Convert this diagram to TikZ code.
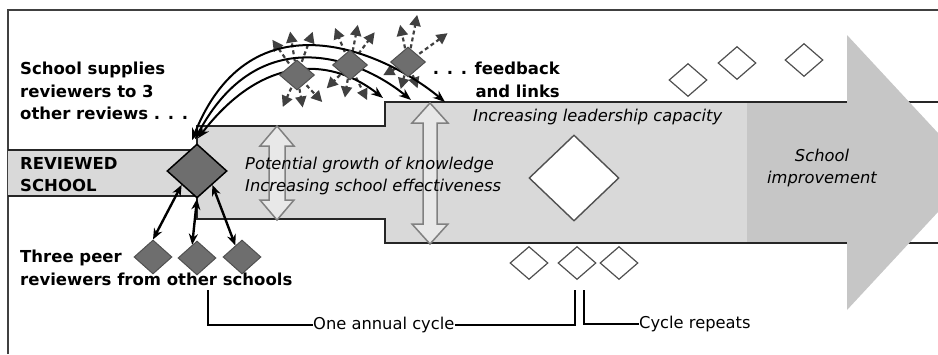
\documentclass[tikz,border=0pt]{standalone}
\usepackage{fontspec}
\setmainfont{DejaVu Sans}
\usetikzlibrary{shapes.geometric,arrows.meta,backgrounds,positioning}
\definecolor{bandgray}{HTML}{D9D9D9}
\definecolor{impgray}{HTML}{C6C6C6}
\definecolor{diagray}{HTML}{6E6E6E}
\definecolor{rimgray}{HTML}{505050}

\begin{document}
\begin{tikzpicture}[x=1pt,y=-1pt,
    darkdia/.style={diamond, inner sep=0, fill=diagray, draw=rimgray, line width=1pt},
    whitedia/.style={diamond, inner sep=0, fill=white, draw=rimgray, line width=1.2pt,
        minimum width=38, minimum height=33},
    boldlbl/.style={font=\fontsize{16.5}{22.5}\selectfont\bfseries, inner sep=0},
    itlbl/.style={font=\fontsize{16.3}{22}\selectfont\itshape, inner sep=0},
    plainlbl/.style={font=\fontsize{16.3}{20}\selectfont, inner sep=0},
    hollow/.style={draw=black!50, fill=black!9, line width=1.5pt, line join=miter},
    spray/.style={draw=black!75, line width=2.2pt, dash pattern=on 4pt off 3pt,
        -{Triangle[length=11pt,width=11pt]}},
    feedarc/.style={{Stealth[length=12pt,width=9pt]}-{Stealth[length=12pt,width=9pt]},
        line width=2pt},
    peerlink/.style={{Stealth[length=11pt,width=9pt]}-{Stealth[length=11pt,width=9pt]},
        line width=2.4pt},
    bracket/.style={line width=2.3pt}]
\useasboundingbox (0,0) rectangle (938,354);

% diamonds
\node[darkdia, draw=black, line width=1.5pt, minimum width=60, minimum height=54] (rev) at (197,171) {};
\node[darkdia, minimum width=38, minimum height=34] (p1) at (153,257) {};
\node[darkdia, minimum width=38, minimum height=34] (p2) at (197,258) {};
\node[darkdia, minimum width=38, minimum height=34] (p3) at (242,257) {};
\node[darkdia, minimum width=35, minimum height=30] (u1) at (297,75) {};
\node[darkdia, minimum width=35, minimum height=30] (u2) at (350,65) {};
\node[darkdia, minimum width=35, minimum height=30] (u3) at (408,62) {};
\node[whitedia, minimum width=90, minimum height=86, line width=1.4pt] (big) at (574,178) {};
\node[whitedia] (t1) at (688,80) {};
\node[whitedia] (t2) at (737,63) {};
\node[whitedia] (t3) at (804,60) {};
\node[whitedia] (b1) at (529,263) {};
\node[whitedia] (b2) at (577,263) {};
\node[whitedia] (b3) at (619,263) {};

% labels
\node[boldlbl, align=left, anchor=north west] (supp) at (20,62) {School supplies\\reviewers to 3\\other reviews . . .};
\node[boldlbl, align=left, anchor=north west] (revlbl) at (20,157) {REVIEWED\\SCHOOL};
\node[boldlbl, align=left, anchor=north west] (peer) at (20,250) {Three peer\\reviewers from other schools};
\node[boldlbl, align=right, anchor=north east] (feed) at (560,62) {. . . feedback\\and links};
\node[itlbl, anchor=base west] (lead) at (473,121) {Increasing leadership capacity};
\node[itlbl, align=left, anchor=north west] (grow) at (245,157) {Potential growth of knowledge\\Increasing school effectiveness};
\node[itlbl, align=center, anchor=north] (imp) at (822,149) {School\\improvement};
\node[plainlbl, anchor=west] (cyc) at (313,325) {One annual cycle};
\node[plainlbl, anchor=west] (rep) at (639,324) {Cycle repeats};

\coordinate (fb1) at (383,98);
\coordinate (fb2) at (411,100);
\coordinate (fb3) at (445,102);
\coordinate (cycA) at (208,290);
\coordinate (cycB) at (575,290);
\coordinate (cycC) at (584,290);

\begin{pgfonlayer}{background}
    % frame
    \draw[black!75, line width=1.5pt] (8,354) -- (8,10) -- (938,10);

    % the growing band
    \fill[bandgray] (8,150) -- (197,150) -- (197,126) -- (385,126) -- (385,102) -- (747,102)
        -- (747,243) -- (385,243) -- (385,219) -- (197,219) -- (197,196) -- (8,196) -- cycle;
    \fill[impgray] (747,102) rectangle (847,243);
    \draw[black!85, line width=1.1pt] (8,150) -- (197,150) -- (197,126) -- (385,126) -- (385,102) -- (938,102);
    \draw[black!85, line width=1.1pt] (8,196) -- (197,196) -- (197,219) -- (385,219) -- (385,243) -- (938,243);
    \fill[impgray] (847,35) -- (938,133) -- (938,212) -- (847,310) -- cycle;

    % growth arrows
    \draw[hollow] (277,126) -- (294,146) -- (285,146) -- (285,200) -- (294,200) -- (277,220)
        -- (260,200) -- (269,200) -- (269,146) -- (260,146) -- cycle;
    \draw[hollow] (430,103) -- (448,123) -- (437,123) -- (437,224) -- (448,224) -- (430,244)
        -- (412,224) -- (423,224) -- (423,123) -- (412,123) -- cycle;

    % feedback spreading out from the reviews
    \foreach \a/\l in {125/43, 99/44, 70/46, -114/35, -80/33, -47/37}
        \draw[spray] (u1.center) -- ++(-\a:\l);
    \foreach \a/\l in {112/40, 79/41, 53/41, -135/33, -99/33, -64/39}
        \draw[spray] (u2.center) -- ++(-\a:\l);
    \foreach \a/\l in {102/38, 79/48, 36/49, -152/28, -105/28, -70/28}
        \draw[spray] (u3.center) -- ++(-\a:\l);

    % reviewers sent out
    \draw[feedarc] ([xshift=-5pt,yshift=3pt]rev.north) .. controls (251,-8) and (385,52) .. (fb3);
    \draw[feedarc] ([xshift=-2pt,yshift=4pt]rev.north) .. controls (259,19) and (360,58) .. (fb2);
    \draw[feedarc] ([xshift=1pt,yshift=5pt]rev.north) .. controls (266,50) and (335,60) .. (fb1);

    % peer reviewers
    \draw[peerlink] (rev.south west) -- (p1.north);
    \draw[peerlink] (rev.south) -- (p2.110);
    \draw[peerlink] (rev.south east) -- (p3.120);

    % cycle brackets
    \draw[bracket] (cycA) |- (cyc.west);
    \draw[bracket] (cyc.east) -| (cycB);
    \draw[bracket] (cycC) |- (rep.west);
\end{pgfonlayer}
\end{tikzpicture}
\end{document}
